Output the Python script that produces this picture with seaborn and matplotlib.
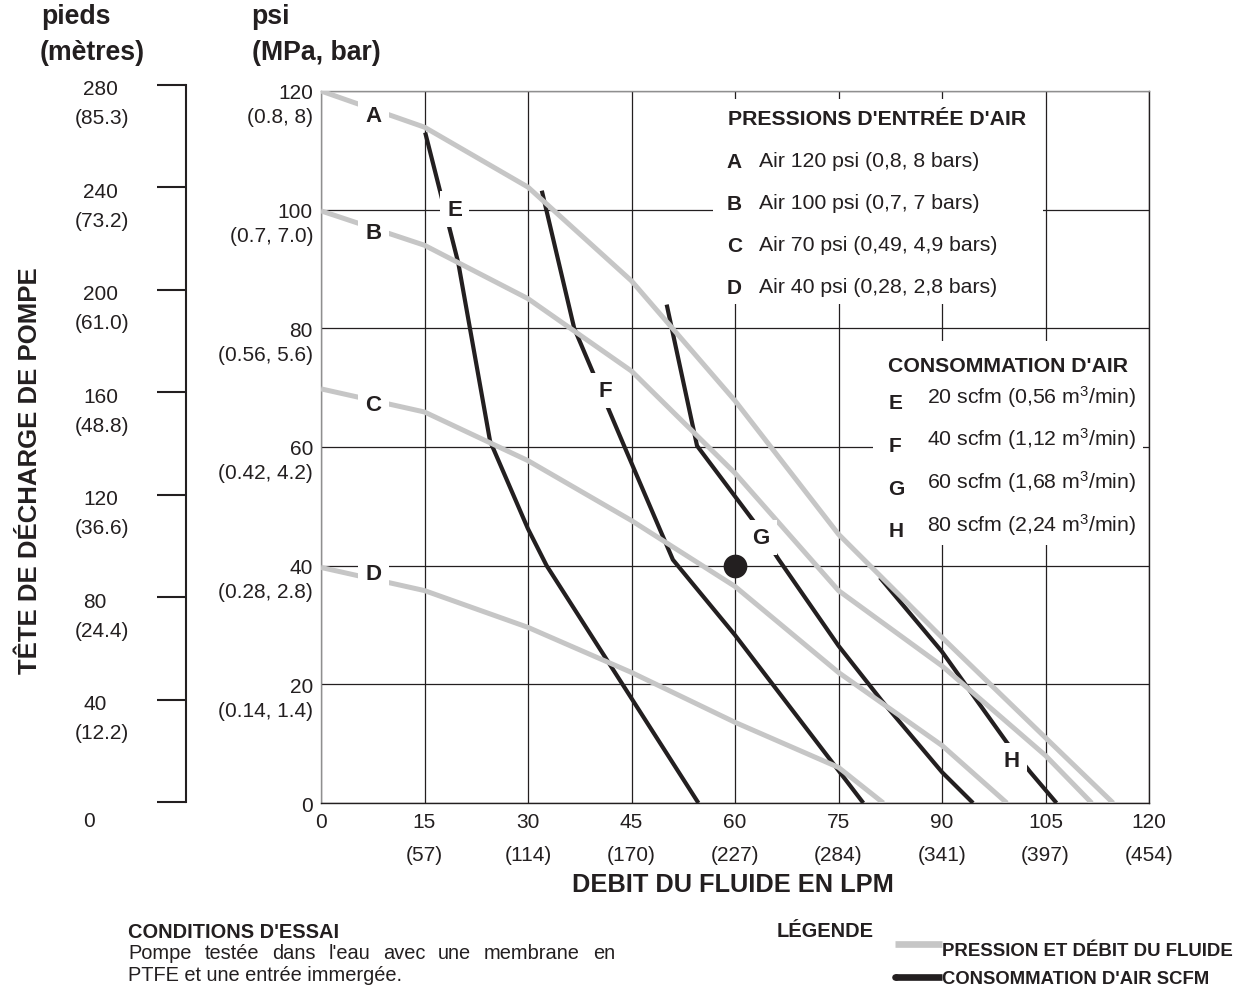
import matplotlib
matplotlib.use("Agg")
import matplotlib.pyplot as plt
import matplotlib.transforms as mtrans
from matplotlib.lines import Line2D
from matplotlib.patches import Rectangle
import pandas as pd
import seaborn as sns

# ---------------- data ----------------
x_ticks = [0, 15, 30, 45, 60, 75, 90, 105, 120]
x_lpm_labels = ["", "(57)", "(114)", "(170)", "(227)", "(284)", "(341)", "(397)", "(454)"]
y_ticks = [0, 20, 40, 60, 80, 100, 120]
y_mpa_labels = ["", "(0.14, 1.4)", "(0.28, 2.8)", "(0.42, 4.2)", "(0.56, 5.6)", "(0.7, 7.0)", "(0.8, 8)"]
ft_ticks = [0, 40, 80, 120, 160, 200, 240, 280]
m_labels = ["", "(12.2)", "(24.4)", "(36.6)", "(48.8)", "(61.0)", "(73.2)", "(85.3)"]

# fluid pressure / flow curves (grey)
A_x = [0, 15, 30, 45, 60, 75, 90, 105, 114.8]
A_y = [120, 113.9, 103.8, 88, 67.8, 45.3, 27.9, 11, 0]
B_x = [0, 15, 30, 45, 60, 75, 90, 105, 111.7]
B_y = [99.8, 94, 85, 72.8, 55.6, 35.8, 23.1, 8, 0]
C_x = [0, 15, 30, 45, 60, 75, 90, 99.4]
C_y = [69.8, 65.9, 57.7, 47.6, 36.5, 22, 9.7, 0]
D_x = [0, 15, 30, 45, 60, 75, 81.5]
D_y = [39.7, 35.8, 29.6, 22, 13.6, 6, 0]

# air consumption curves (black)
E_x = [15.1, 19.9, 24.5, 30, 32.7, 54.7]
E_y = [113, 91, 61, 46.2, 40, 0]
F_x = [32, 36.7, 44, 51, 60, 78.6]
F_y = [103.2, 80, 60, 41, 28.3, 0]
G_x = [50.1, 54.5, 62.7, 66.3, 75, 81.3, 90, 94.5]
G_y = [84, 60.2, 47.5, 41.1, 26.5, 17.2, 5.2, 0]
H_x = [81, 90, 99.4, 102.8, 106.6]
H_y = [38, 25.5, 10.2, 5.2, 0]

# curve letter label positions (flow, psi)
label_names = ["A", "B", "C", "D", "E", "F", "G", "H"]
label_x = [7.6, 7.6, 7.6, 7.6, 19.4, 41.2, 63.8, 100.1]
label_y = [115.8, 96.2, 67.2, 38.6, 100.1, 69.5, 44.8, 7.1]

# operating point
point_x = [60]
point_y = [40]

pressure_title = "PRESSIONS D'ENTRÉE D'AIR"
pressure_letters = ["A", "B", "C", "D"]
pressure_texts = ["Air 120 psi (0,8, 8 bars)", "Air 100 psi (0,7, 7 bars)",
                  "Air 70 psi (0,49, 4,9 bars)", "Air 40 psi (0,28, 2,8 bars)"]
air_title = "CONSOMMATION D'AIR"
air_letters = ["E", "F", "G", "H"]
air_texts = ["20 scfm (0,56 m$^3$/min)", "40 scfm (1,12 m$^3$/min)",
             "60 scfm (1,68 m$^3$/min)", "80 scfm (2,24 m$^3$/min)"]

# ---------------- style ----------------
sns.set_style("white")
plt.rcParams["font.family"] = ["Liberation Sans", "DejaVu Sans"]
plt.rcParams["mathtext.fontset"] = "custom"
plt.rcParams["mathtext.rm"] = "Liberation Sans"
plt.rcParams["mathtext.it"] = "Liberation Sans:italic"
plt.rcParams["mathtext.bf"] = "Liberation Sans:bold"

DARK = "#231f20"
GREY = "#c6c6c6"
FRAME_GREY = "#8f8f8f"
W, H = 1247, 995


def fx(px):
    return px / W


def fy(py):
    return 1 - py / H


fig = plt.figure(figsize=(W / 100, H / 100), dpi=100)
fig.patch.set_facecolor("white")

ax = fig.add_axes([fx(321), fy(804), 828 / W, 712 / H])
ax.set_xlim(0, 120)
ax.set_ylim(0, 120)

# long-form data frames
p_df = pd.concat([
    pd.DataFrame({"flow": xs, "psi": ys, "curve": n})
    for n, xs, ys in [("A", A_x, A_y), ("B", B_x, B_y), ("C", C_x, C_y), ("D", D_x, D_y)]
])
a_df = pd.concat([
    pd.DataFrame({"flow": xs, "psi": ys, "curve": n})
    for n, xs, ys in [("E", E_x, E_y), ("F", F_x, F_y), ("G", G_x, G_y), ("H", H_x, H_y)]
])

sns.lineplot(data=a_df, x="flow", y="psi", hue="curve",
             palette={c: DARK for c in "EFGH"}, estimator=None, sort=False,
             legend=False, lw=3.0, zorder=3, solid_capstyle="butt", ax=ax)
sns.lineplot(data=p_df, x="flow", y="psi", hue="curve",
             palette={c: GREY for c in "ABCD"}, estimator=None, sort=False,
             legend=False, lw=3.6, zorder=4, solid_capstyle="butt", ax=ax)
sns.scatterplot(x=point_x, y=point_y, s=250, color=DARK, edgecolor=DARK,
                zorder=7, legend=False, ax=ax)

# grid & frame
ax.set_xticks(x_ticks)
ax.set_yticks(y_ticks)
ax.set_xticklabels([str(v) for v in x_ticks])
ax.set_yticklabels([str(v) for v in y_ticks])
ax.grid(True, color=DARK, lw=0.9)
ax.set_axisbelow(True)
ax.tick_params(axis="both", length=0, labelsize=15, colors=DARK)
ax.tick_params(axis="x", pad=6.5)
ax.tick_params(axis="y", pad=5.8)
ax.set_xlabel("")
ax.set_ylabel("")
for side in ["left", "top"]:
    ax.spines[side].set_color(FRAME_GREY)
    ax.spines[side].set_linewidth(1.0)
for side in ["bottom", "right"]:
    ax.spines[side].set_color(DARK)
    ax.spines[side].set_linewidth(1.0)

# secondary tick labels
tx = mtrans.offset_copy(ax.get_xaxis_transform(), fig=fig, y=-51.5, units="dots")
for v, lab in zip(x_ticks, x_lpm_labels):
    if lab:
        ax.text(v, 0, lab, transform=tx, ha="center", va="center", fontsize=15, color=DARK)
ty = mtrans.offset_copy(ax.get_yaxis_transform(), fig=fig, x=-8, y=-26, units="dots")
for v, lab in zip(y_ticks, y_mpa_labels):
    if lab:
        ax.text(0, v, lab, transform=ty, ha="right", va="center", fontsize=15, color=DARK)

# white boxes behind in-plot legends
for (x0, y0, x1, y1) in [(0.4734, 0.7008, 0.872, 0.9888), (0.6667, 0.3624, 0.9928, 0.6489)]:
    ax.add_patch(Rectangle((x0, y0), x1 - x0, y1 - y0, transform=ax.transAxes,
                           facecolor="white", edgecolor="none", zorder=6))

# curve letters
for n, lx, ly in zip(label_names, label_x, label_y):
    ax.text(lx, ly, n, ha="center", va="center", fontsize=16, fontweight="bold",
            color=DARK, zorder=8,
            bbox=dict(boxstyle="square,pad=0.32", fc="white", ec="none"))

# ---------------- feet axis ----------------
ax2 = fig.add_axes([fx(185.7), fy(803.3), 0.0008, 717.3 / H])
ax2.set_ylim(0, 280)
ax2.set_xlim(0, 1)
ax2.patch.set_visible(False)
for side in ["top", "right", "bottom"]:
    ax2.spines[side].set_visible(False)
ax2.spines["left"].set_color(DARK)
ax2.spines["left"].set_linewidth(1.5)
ax2.set_xticks([])
ax2.set_yticks(ft_ticks)
ax2.tick_params(axis="y", left=True, direction="out", length=20.9, width=1.5,
                color=DARK, labelleft=False)
base = mtrans.blended_transform_factory(fig.transFigure, ax2.transData)
for v, lab in zip(ft_ticks, m_labels):
    off = -18.4 if v == 0 else -4
    tn = mtrans.offset_copy(base, fig=fig, y=off, units="dots")
    ax2.text(fx(83), v, str(v), transform=tn, ha="left", va="center", fontsize=15, color=DARK)
    if lab:
        tp = mtrans.offset_copy(base, fig=fig, y=-33, units="dots")
        ax2.text(fx(75), v, lab, transform=tp, ha="left", va="center", fontsize=15, color=DARK)

# ---------------- titles ----------------
bold = dict(fontweight="bold", color=DARK)
fig.text(fx(41.7), fy(24.5), "pieds", va="baseline", fontsize=19.2, **bold)
fig.text(fx(40), fy(59.5), "(mètres)", va="baseline", fontsize=19.2, **bold)
fig.text(fx(251.7), fy(24.5), "psi", va="baseline", fontsize=19.2, **bold)
fig.text(fx(251.7), fy(59.5), "(MPa, bar)", va="baseline", fontsize=19.2, **bold)
fig.text(fx(30), fy(471), "TÊTE DE DÉCHARGE DE POMPE", rotation=90, ha="center",
         va="center", fontsize=18.5, **bold)
fig.text(fx(733), fy(885), "DEBIT DU FLUIDE EN LPM", ha="center", va="center",
         fontsize=18.3, **bold)

# ---------------- in-plot legends ----------------
fig.text(fx(728.3), fy(125), pressure_title, va="baseline", fontsize=15.3, zorder=10, **bold)
for i, (l, t) in enumerate(zip(pressure_letters, pressure_texts)):
    yb = 166.9 + i * 41.9
    fig.text(fx(726.7), fy(yb + 1.2), l, va="baseline", fontsize=15, zorder=10, **bold)
    fig.text(fx(759.3), fy(yb), t, va="baseline", fontsize=15.3, color=DARK, zorder=10)

fig.text(fx(888.3), fy(371.7), air_title, va="baseline", fontsize=15.3, zorder=10, **bold)
for i, (l, t) in enumerate(zip(air_letters, air_texts)):
    yb = 403.5 + i * 42.8
    fig.text(fx(888.3), fy(yb + 5.5), l, va="baseline", fontsize=15, zorder=10, **bold)
    fig.text(fx(926.7), fy(yb), t, va="baseline", fontsize=15.3, color=DARK, zorder=10)

# ---------------- bottom notes ----------------
fig.text(fx(128.3), fy(938.3), "CONDITIONS D'ESSAI", va="baseline", fontsize=14.4, **bold)
renderer = fig.canvas.get_renderer()
words = "Pompe testée dans l'eau avec une membrane en".split()
items = [fig.text(0, fy(958.8), w, va="baseline", fontsize=14.4, color=DARK) for w in words]
widths = [t.get_window_extent(renderer).width for t in items]
gap = (615 - 128.3 - sum(widths)) / (len(words) - 1)
xcur = 128.3
for t, wd in zip(items, widths):
    t.set_x(fx(xcur))
    xcur += wd + gap
fig.text(fx(128.3), fy(981.5), "PTFE et une entrée immergée.", va="baseline",
         fontsize=14.4, color=DARK)

fig.text(fx(776.7), fy(937.3), "LÉGENDE", va="baseline", fontsize=14.4, **bold)
fig.add_artist(Line2D([fx(895), fx(941.7)], [fy(945), fy(945)], color=GREY, lw=4.8,
                      solid_capstyle="butt"))
fig.add_artist(Line2D([fx(895), fx(941.7)], [fy(978.3), fy(978.3)], color=DARK, lw=4.8,
                      solid_capstyle="butt"))
fig.add_artist(Line2D([fx(895), fx(896)], [fy(978.3), fy(978.3)], color=DARK, lw=4.8,
                      solid_capstyle="round"))
fig.text(fx(941.7), fy(956.5), "PRESSION ET DÉBIT DU FLUIDE", va="baseline",
         fontsize=13.4, **bold)
fig.text(fx(941.7), fy(984.5), "CONSOMMATION D'AIR SCFM", va="baseline",
         fontsize=13.3, **bold)

fig.savefig("out.png", dpi=100)
